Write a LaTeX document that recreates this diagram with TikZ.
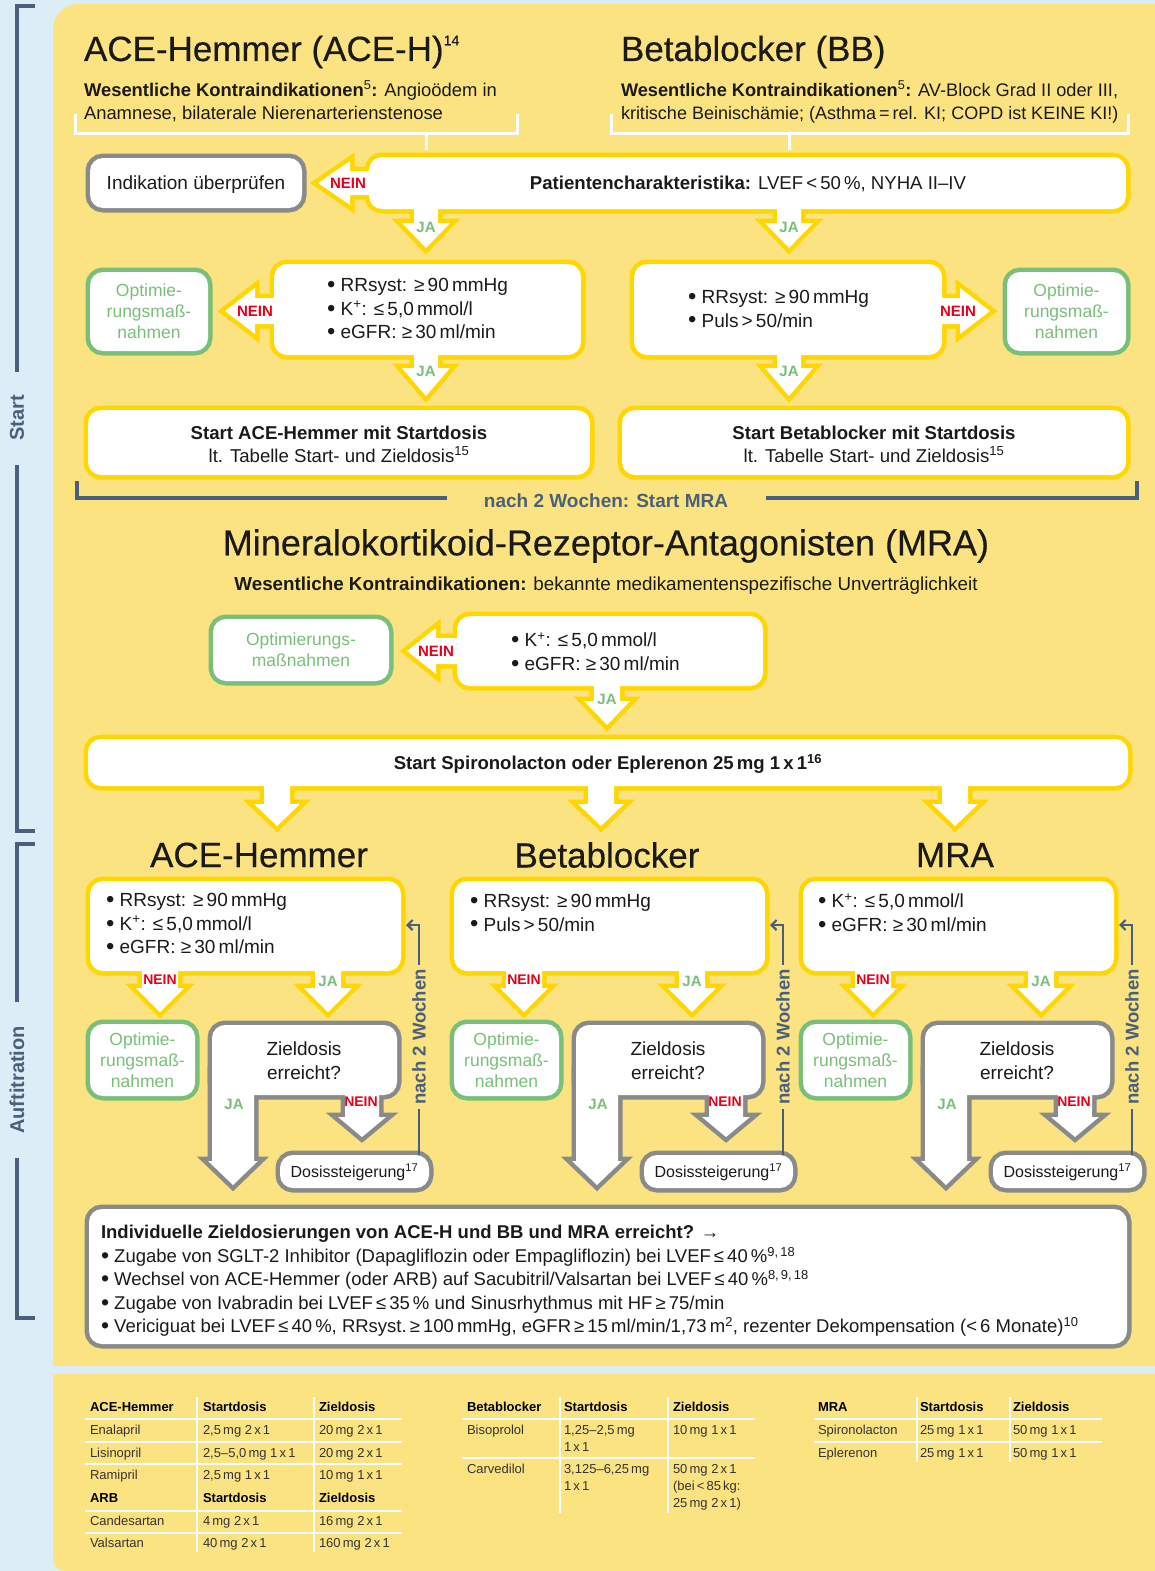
\documentclass[tikz,border=0pt]{standalone}
\usepackage{fontspec}
\usepackage{graphicx}
\setmainfont{Liberation Sans}
\newfontfamily\medfont[FakeBold=0.4]{Liberation Sans}
\usetikzlibrary{calc,arrows.meta}
\definecolor{panel}{HTML}{FCE381}
\definecolor{lblue}{HTML}{DDEDF8}
\definecolor{ybord}{HTML}{FFD600}
\definecolor{gbord}{HTML}{8A8A8A}
\definecolor{grn}{HTML}{79BF79}
\definecolor{rd}{HTML}{E2001A}
\definecolor{bgray}{HTML}{4A607A}
\definecolor{txtc}{HTML}{1A1A1A}
\definecolor{tabc}{HTML}{333333}
\pgfdeclarelayer{bg}\pgfdeclarelayer{bord}\pgfdeclarelayer{fillL}
\pgfsetlayers{bg,bord,fillL,main}
\newcommand\fs[2]{\fontsize{#1}{#2}\selectfont}
\newcommand\bul{\raisebox{-0.04em}{\scalebox{1.25}{\textbullet}}\ }
\newcommand\tsup[1]{\raisebox{0.45em}{\fs{14}{14}#1}}
\tikzset{
  bstroke/.style={draw=#1,line width=9pt,rounded corners=13pt},
  boxfill/.style={fill=white,rounded corners=13pt,inner sep=0pt,outer sep=0pt,draw=none},
  astroke/.style={draw=#1,line width=9pt,line join=miter,miter limit=6},
  txt/.style={inner sep=0pt,outer sep=0pt,text=txtc},
  bullist/.style={txt,anchor=west,align=left,font=\fs{19}{23.5}},
  grntxt/.style={txt,text=grn,align=center,font=\fs{17.5}{21}},
  jalab/.style={txt,text=grn,font=\fs{15}{18}\bfseries},
  neinlab/.style={txt,text=rd,font=\fs{15}{18}\bfseries},
  sneinlab/.style={txt,text=rd,font=\fs{14}{17}\bfseries},
  sidebar/.style={draw=bgray,line width=4pt},
  sidetxt/.style={txt,text=bgray,font=\fs{20}{24}\bfseries,rotate=90},
  wbr/.style={draw=white,line width=3pt},
  fbline/.style={draw=bgray,line width=2.2pt,-{Straight Barb[length=5pt,width=10pt]},shorten >=5pt},
  fbtxt/.style={txt,text=bgray,font=\fs{18.5}{22}\bfseries,rotate=90,fill=panel,inner sep=4pt},
  bigtitle/.style={txt,font=\medfont\fs{35}{40}},
  tabtxt/.style={txt,anchor=base west,font=\fs{13}{15},text=tabc},
  tabhead/.style={txt,anchor=base west,font=\fs{13}{15}\bfseries,text=black},
  tabline/.style={draw=white,line width=2pt}
}
% box: name, colour, x1,y1,x2,y2 (outer)
\newcommand\BX[6]{%
  \pgfmathsetmacro\bxcx{(#3+#5)/2}%
  \pgfmathsetmacro\bxcy{(#4+#6)/2}%
  \pgfmathsetmacro\bxw{#5-(#3)-8}%
  \pgfmathsetmacro\bxh{#6-(#4)-8}%
  \node[boxfill,minimum width=\bxw pt,minimum height=\bxh pt] (#1) at (\bxcx,\bxcy) {};
  \begin{pgfonlayer}{bord}\draw[bstroke=#2] (#1.north west) rectangle (#1.south east);\end{pgfonlayer}}
% vertical block arrow: colour, cx, ystart, shaft half, head half, y head, y tip
\newcommand\VA[7]{%
  \begin{pgfonlayer}{bord}
  \draw[astroke=#1] ({#2-#4},#3) -- ({#2-#4},#6) -- ({#2-#5},#6) -- ({#2},#7) -- ({#2+#5},#6) -- ({#2+#4},#6) -- ({#2+#4},#3) -- cycle;
  \end{pgfonlayer}
  \begin{pgfonlayer}{fillL}
  \fill[white] ({#2-#4},#3) -- ({#2-#4},#6) -- ({#2-#5},#6) -- ({#2},#7) -- ({#2+#5},#6) -- ({#2+#4},#6) -- ({#2+#4},#3) -- cycle;
  \end{pgfonlayer}}
% horizontal block arrow: colour, cy, xstart, shaft half, head half, x head, x tip
\newcommand\HA[7]{%
  \begin{pgfonlayer}{bord}
  \draw[astroke=#1] (#3,{#2-#4}) -- (#6,{#2-#4}) -- (#6,{#2-#5}) -- (#7,{#2}) -- (#6,{#2+#5}) -- (#6,{#2+#4}) -- (#3,{#2+#4}) -- cycle;
  \end{pgfonlayer}
  \begin{pgfonlayer}{fillL}
  \fill[white] (#3,{#2-#4}) -- (#6,{#2-#4}) -- (#6,{#2-#5}) -- (#7,{#2}) -- (#6,{#2+#5}) -- (#6,{#2+#4}) -- (#3,{#2+#4}) -- cycle;
  \end{pgfonlayer}}
% column: offset, id, title x, title
\newcommand\COL[4]{%
  \node[bigtitle] (ct#2) at ({#3},855) {#4};
  \BX{cb#2}{ybord}{86+#1}{877}{405+#1}{975}
  \VA{ybord}{160+#1}{962}{18}{24}{988}{1012}
  \node[sneinlab] (cn#2) at ({160+#1},980) {NEIN};
  \VA{ybord}{328+#1}{962}{13}{24}{988}{1012}
  \node[jalab] (cj#2) at ({328+#1},981) {JA};
  \BX{cg#2}{grn}{86+#1}{1020}{199+#1}{1100}
  \node[grntxt] (cgt#2) at (cg#2) {Optimie-\\rungsmaß-\\nahmen};
  \BX{cz#2}{gbord}{208+#1}{1021}{401+#1}{1099}
  \node[txt,font=\fs{19}{24},align=center] (czt#2) at ({304+#1},1061) {Zieldosis\\erreicht?};
  \VA{gbord}{233+#1}{1070}{21}{25}{1161}{1185}
  \node[jalab] (czj#2) at ({234+#1},1104) {JA};
  \VA{gbord}{362+#1}{1080}{17}{24}{1117}{1137}
  \node[sneinlab] (czn#2) at ({361+#1},1102) {NEIN};
  \BX{cd#2}{gbord}{276+#1}{1151}{433+#1}{1192}
  \node[txt,font=\fs{16}{20}] (cdt#2) at ($(cd#2)+(0,1)$) {Dosissteigerung\textsuperscript{17}};
  \coordinate (fb#2) at ({419+#1},925);
  \draw[fbline] (fb#2 |- cd#2.north) -- (fb#2) -- (fb#2 -| cb#2.east);
  \node[fbtxt] (fbt#2) at ({419+#1},1037) {nach 2 Wochen};
}
\newcommand\TabC[4]{\node[tabtxt] (#1) at (#2,#3) {#4};}
\newcommand\TabH[4]{\node[tabhead] (#1) at (#2,#3) {#4};}
\begin{document}
\begin{tikzpicture}[x=1pt,y=-1pt]
\useasboundingbox (0,0) rectangle (1155,1571);
\begin{pgfonlayer}{bg}
\clip (0,0) rectangle (1155,1571);
\fill[lblue] (0,0) rectangle (1155,1571);
\fill[panel,rounded corners=25pt] (53,4) rectangle (1200,1366);
\fill[panel] (53,1300) rectangle (1200,1366);
\fill[panel,rounded corners=12pt] (53,1374) rectangle (1200,1571);
\fill[panel] (53,1374) rectangle (1200,1420);
\end{pgfonlayer}

% sidebar
\draw[sidebar] (35,6) -- (17,6) -- (17,372);
\node[sidetxt] (sStart) at (17,418) {Start};
\draw[sidebar] (17,465) -- (17,831) -- (35,831);
\draw[sidebar] (35,844) -- (17,844) -- (17,1002);
\node[sidetxt] (sAuf) at (17,1080) {Auftitration};
\draw[sidebar] (17,1158) -- (17,1318) -- (35,1318);

% titles
\node[bigtitle,anchor=base west] (tACE) at (84,61) {ACE-Hemmer (ACE-H)\tsup{14}};
\node[bigtitle,anchor=base west] (tBB) at (621,61) {Betablocker (BB)};
\node[txt,anchor=base west,font=\fs{18.4}{22}] (kiA1) at (84,96) {\textbf{Wesentliche Kontraindikationen}\textsuperscript{5}\textbf{:} Angioödem in};
\node[txt,anchor=base west,font=\fs{18.4}{22}] (kiA2) at (84,119) {Anamnese, bilaterale Nierenarterienstenose};
\node[txt,anchor=base west,font=\fs{18.2}{22}] (kiB1) at (621,96) {\textbf{Wesentliche Kontraindikationen}\textsuperscript{5}\textbf{:} AV-Block Grad II oder III,};
\node[txt,anchor=base west,font=\fs{18}{22}] (kiB2) at (621,119) {kritische Beinischämie; (Asthma\,=\,rel. KI; COPD ist KEINE KI!)};
\draw[wbr] (75,114) -- (75,133) -- (517,133) -- (517,114);
\draw[wbr] (426,133) -- (426,150);
\draw[wbr] (611,114) -- (611,133) -- (1128,133) -- (1128,114);
\draw[wbr] (789,133) -- (789,150);

% row 1
\BX{ind}{gbord}{86}{154}{306}{212}
\node[txt,font=\fs{19}{24}] (indT) at ($(ind)+(0,2)$) {Indikation überprüfen};
\BX{pat}{ybord}{365}{153}{1130}{213}
\node[txt,font=\fs{18.6}{22}] (patT) at (748,184) {\textbf{Patientencharakteristika:} LVEF\,<\,50\,\%, NYHA II–IV};
\HA{ybord}{183}{375}{12}{22}{350}{318}
\node[neinlab] (n1) at (348,183) {NEIN};
\VA{ybord}{426}{200}{12}{24}{223}{248}
\node[jalab] (j1) at (426,227) {JA};
\VA{ybord}{789}{200}{12}{24}{223}{248}
\node[jalab] (j2) at (789,227) {JA};

% row 2
\BX{gA1}{grn}{86}{268}{212}{355}
\node[grntxt] (gA1t) at (gA1) {Optimie-\\rungsmaß-\\nahmen};
\BX{rrA}{ybord}{270}{260}{585}{359}
\node[bullist] (rrAT) at (327,309) {\bul RRsyst: ≥\,90\,mmHg\\\bul K\textsuperscript{+}: ≤\,5,0\,mmol/l\\\bul eGFR: ≥\,30\,ml/min};
\HA{ybord}{311}{282}{13}{23}{255}{225}
\node[neinlab] (n2) at (255,311) {NEIN};
\BX{rrB}{ybord}{630}{260}{946}{359}
\node[bullist] (rrBT) at (688,309) {\bul RRsyst: ≥\,90\,mmHg\\\bul Puls\,>\,50/min};
\HA{ybord}{311}{935}{13}{23}{960}{990}
\node[neinlab] (n3) at (958,311) {NEIN};
\BX{gB1}{grn}{1003}{268}{1130}{355}
\node[grntxt] (gB1t) at (gB1) {Optimie-\\rungsmaß-\\nahmen};
\VA{ybord}{426}{345}{12}{24}{368}{396}
\node[jalab] (j3) at (426,371) {JA};
\VA{ybord}{789}{345}{12}{24}{368}{396}
\node[jalab] (j4) at (789,371) {JA};

% row 3
\BX{sA}{ybord}{84}{406}{594}{479}
\node[txt,font=\fs{18.6}{23},align=center] (sAT) at (339,444) {\textbf{Start ACE-Hemmer mit Startdosis}\\lt. Tabelle Start- und Zieldosis\textsuperscript{15}};
\BX{sB}{ybord}{618}{406}{1130}{479}
\node[txt,font=\fs{18.6}{23},align=center] (sBT) at (874,444) {\textbf{Start Betablocker mit Startdosis}\\lt. Tabelle Start- und Zieldosis\textsuperscript{15}};

% bracket nach 2 Wochen
\node[txt,text=bgray,font=\fs{19}{23}\bfseries] (n2w) at (606,501) {nach 2 Wochen: Start MRA};
\draw[sidebar] (77,481) -- (77,498) -- (447,498);
\draw[sidebar] (766,498) -- (1137,498) -- (1137,481);

% MRA section
\node[bigtitle,font=\medfont\fs{36}{40}] (tMRA) at (606,546) {Mineralokortikoid-Rezeptor-Antagonisten (MRA)};
\node[txt,font=\fs{18.8}{22}] (kiM) at (606,586) {\textbf{Wesentliche Kontraindikationen:} bekannte medikamentenspezifische Unverträglichkeit};
\BX{gM}{grn}{209}{615}{393}{685}
\node[grntxt] (gMt) at (gM) {Optimierungs-\\maßnahmen};
\BX{mraK}{ybord}{453}{612}{767}{690}
\node[bullist] (mraKT) at (511,652) {\bul K\textsuperscript{+}: ≤\,5,0\,mmol/l\\\bul eGFR: ≥\,30\,ml/min};
\HA{ybord}{651}{465}{13}{23}{436}{407}
\node[neinlab] (n4) at (436,651) {NEIN};
\VA{ybord}{607}{678}{13}{23}{701}{725}
\node[jalab] (j5) at (607,699) {JA};

% spiro bar
\BX{spiro}{ybord}{84}{735}{1132}{790}
\node[txt,font=\fs{18.6}{22}\bfseries] (spiroT) at (608,764) {Start Spironolacton oder Eplerenon 25\,mg 1\,x\,1\textsuperscript{16}};
\VA{ybord}{277}{778}{13}{23}{804}{826}
\VA{ybord}{601}{778}{13}{23}{804}{826}
\VA{ybord}{955}{778}{13}{23}{804}{826}

% columns
\COL{0}{A}{259}{ACE-Hemmer}
\COL{364}{B}{607}{Betablocker}
\COL{713}{C}{955}{MRA}
\node[bullist] (cbtA) at (106,924) {\bul RRsyst: ≥\,90\,mmHg\\\bul K\textsuperscript{+}: ≤\,5,0\,mmol/l\\\bul eGFR: ≥\,30\,ml/min};
\node[bullist] (cbtB) at (470,913) {\bul RRsyst: ≥\,90\,mmHg\\\bul Puls\,>\,50/min};
\node[bullist] (cbtC) at (818,913) {\bul K\textsuperscript{+}: ≤\,5,0\,mmol/l\\\bul eGFR: ≥\,30\,ml/min};

% final box
\BX{fin}{gbord}{85}{1205}{1131}{1348}
\node[txt,anchor=west,align=left,font=\fs{18.5}{23.5}] (finT) at (101,1281) {\textbf{Individuelle Zieldosierungen von ACE-H und BB und MRA erreicht? →}\\
\bul Zugabe von SGLT-2 Inhibitor (Dapagliflozin oder Empagliflozin) bei LVEF\,≤\,40\,\%\textsuperscript{9,\,18}\\
\bul Wechsel von ACE-Hemmer (oder ARB) auf Sacubitril/Valsartan bei LVEF\,≤\,40\,\%\textsuperscript{8,\,9,\,18}\\
\bul Zugabe von Ivabradin bei LVEF\,≤\,35\,\% und Sinusrhythmus mit HF\,≥\,75/min\\
\bul Vericiguat bei LVEF\,≤\,40\,\%, RRsyst.\,≥\,100\,mmHg, eGFR\,≥\,15\,ml/min/1,73\,m\textsuperscript{2}, rezenter Dekompensation (<\,6 Monate)\textsuperscript{10}};

% tables
\foreach \yy in {1419,1442,1464,1511,1533} \draw[tabline] (85,\yy) -- (402,\yy);
\draw[tabline] (197,1397) -- (197,1552);
\draw[tabline] (314,1397) -- (314,1552);
\TabH{a0}{90}{1411}{ACE-Hemmer}\TabH{a1}{203}{1411}{Startdosis}\TabH{a2}{319}{1411}{Zieldosis}
\TabC{b0}{90}{1434}{Enalapril}\TabC{b1}{203}{1434}{2,5\,mg 2\,x\,1}\TabC{b2}{319}{1434}{20\,mg 2\,x\,1}
\TabC{c0}{90}{1457}{Lisinopril}\TabC{c1}{203}{1457}{2,5–5,0\,mg 1\,x\,1}\TabC{c2}{319}{1457}{20\,mg 2\,x\,1}
\TabC{d0}{90}{1479}{Ramipril}\TabC{d1}{203}{1479}{2,5\,mg 1\,x\,1}\TabC{d2}{319}{1479}{10\,mg 1\,x\,1}
\TabH{e0}{90}{1502}{ARB}\TabH{e1}{203}{1502}{Startdosis}\TabH{e2}{319}{1502}{Zieldosis}
\TabC{f0}{90}{1525}{Candesartan}\TabC{f1}{203}{1525}{4\,mg 2\,x\,1}\TabC{f2}{319}{1525}{16\,mg 2\,x\,1}
\TabC{g0}{90}{1547}{Valsartan}\TabC{g1}{203}{1547}{40\,mg 2\,x\,1}\TabC{g2}{319}{1547}{160\,mg 2\,x\,1}

\foreach \yy in {1419,1458} \draw[tabline] (462,\yy) -- (755,\yy);
\draw[tabline] (560,1397) -- (560,1513);
\draw[tabline] (668,1397) -- (668,1513);
\TabH{h0}{467}{1411}{Betablocker}\TabH{h1}{564}{1411}{Startdosis}\TabH{h2}{673}{1411}{Zieldosis}
\TabC{i0}{467}{1434}{Bisoprolol}\TabC{i1}{564}{1434}{1,25–2,5\,mg}\TabC{i2}{564}{1451}{1\,x\,1}\TabC{i3}{673}{1434}{10\,mg 1\,x\,1}
\TabC{k0}{467}{1473}{Carvedilol}\TabC{k1}{564}{1473}{3,125–6,25\,mg}\TabC{k2}{564}{1490}{1\,x\,1}
\TabC{k3}{673}{1473}{50\,mg 2\,x\,1}\TabC{k4}{673}{1490}{(bei\,<\,85\,kg:}\TabC{k5}{673}{1507}{25\,mg 2\,x\,1)}

\foreach \yy in {1419,1442} \draw[tabline] (814,\yy) -- (1102,\yy);
\draw[tabline] (917,1397) -- (917,1462);
\draw[tabline] (1010,1397) -- (1010,1462);
\TabH{m0}{818}{1411}{MRA}\TabH{m1}{920}{1411}{Startdosis}\TabH{m2}{1013}{1411}{Zieldosis}
\TabC{p0}{818}{1434}{Spironolacton}\TabC{p1}{920}{1434}{25\,mg 1\,x\,1}\TabC{p2}{1013}{1434}{50\,mg 1\,x\,1}
\TabC{q0}{818}{1457}{Eplerenon}\TabC{q1}{920}{1457}{25\,mg 1\,x\,1}\TabC{q2}{1013}{1457}{50\,mg 1\,x\,1}
\end{tikzpicture}
\end{document}
